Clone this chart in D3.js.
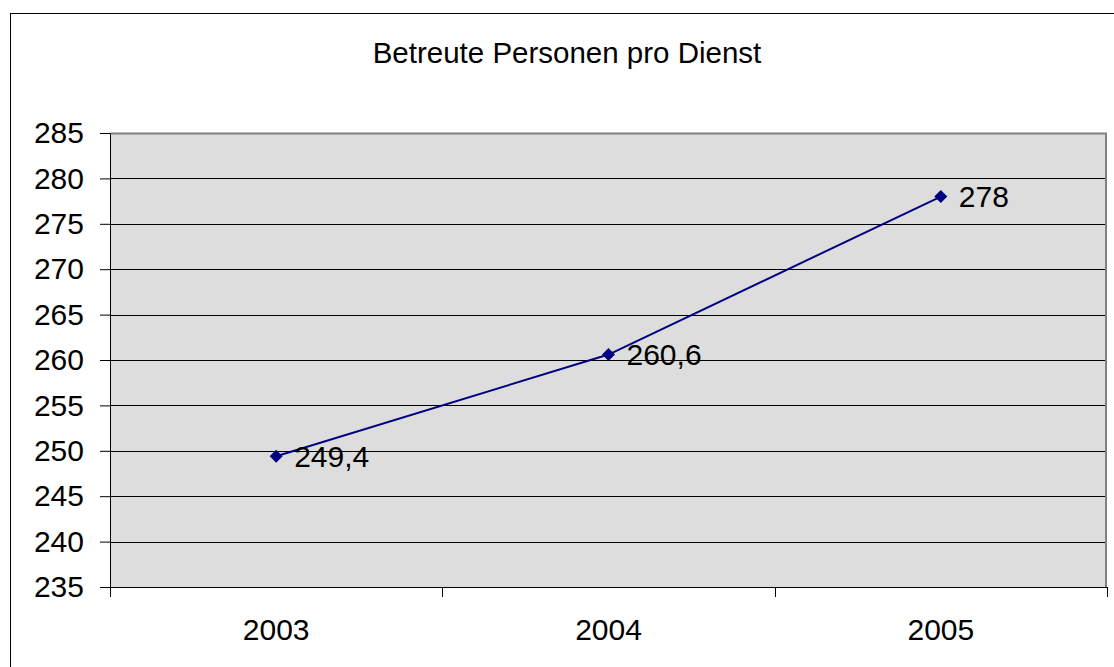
<!DOCTYPE html>
<html>
<head>
<meta charset="utf-8">
<script src="https://cdn.jsdelivr.net/npm/d3@7"></script>
<style>
  body { margin: 0; background: #fff; }
  svg { display: block; font-family: Arial, 'Liberation Sans', sans-serif; }
</style>
</head>
<body>
<div id="chart"></div>
<script>
const years = ['2003', '2004', '2005']
const values = [249.4, 260.6, 278]
const valueLabels = ['249,4', '260,6', '278']
const yTicks = [235, 240, 245, 250, 255, 260, 265, 270, 275, 280, 285]
const title = 'Betreute Personen pro Dienst'

const W = 1114
const H = 667
const margin = { top: 133, right: 7, bottom: 80, left: 110 }
const width = W - margin.left - margin.right
const height = 587 - margin.top
const fontSize = 30

const svg = d3
  .select('#chart')
  .append('svg')
  .attr('width', W)
  .attr('height', H)

// outer frame
svg
  .append('rect')
  .attr('x', 10.5)
  .attr('y', 13.5)
  .attr('width', 1200)
  .attr('height', 800)
  .attr('fill', 'none')
  .attr('stroke', '#000')
  .attr('stroke-width', 1)

svg
  .append('text')
  .attr('x', 567)
  .attr('y', 63)
  .attr('text-anchor', 'middle')
  .attr('font-size', 29.5)
  .attr('fill', '#000')
  .text(title)

const g = svg
  .append('g')
  .attr('transform', 'translate(' + margin.left + ',' + margin.top + ')')

const x = d3.scaleBand().domain(years).range([0, width])
const y = d3.scaleLinear().domain([235, 285]).range([height, 0])

// plot background
g.append('rect')
  .attr('width', width)
  .attr('height', height)
  .attr('fill', '#dddddd')

// gridlines
g.selectAll('.grid')
  .data(yTicks.slice(1, -1))
  .enter()
  .append('line')
  .attr('x1', 0)
  .attr('x2', width)
  .attr('y1', d => Math.round(y(d)) + 0.5)
  .attr('y2', d => Math.round(y(d)) + 0.5)
  .attr('stroke', '#000')
  .attr('stroke-width', 1)

// plot border top/right (gray)
g.append('path')
  .attr('d', 'M0,0.5H' + (width - 1) + 'V' + height)
  .attr('fill', 'none')
  .attr('stroke', '#808080')
  .attr('stroke-width', 2)

// y axis
const yAxis = d3
  .axisLeft(y)
  .tickValues(yTicks)
  .tickSize(10)
  .tickPadding(16)
  .tickSizeOuter(0)

const yg = g.append('g').attr('class', 'y-axis').call(yAxis)
yg.select('.domain').attr('stroke', '#000')
yg.selectAll('.tick line').attr('stroke', '#000')
yg.selectAll('.tick text')
  .attr('font-size', fontSize)
  .attr('font-family', 'Arial, Liberation Sans, sans-serif')
  .attr('fill', '#000')

// x axis
const xAxis = d3
  .axisBottom(x)
  .tickSize(0)
  .tickPadding(32)
  .tickSizeOuter(0)

const xg = g
  .append('g')
  .attr('class', 'x-axis')
  .attr('transform', 'translate(0,' + height + ')')
  .call(xAxis)
xg.select('.domain').attr('stroke', '#000')
xg.selectAll('.tick text')
  .attr('font-size', fontSize)
  .attr('font-family', 'Arial, Liberation Sans, sans-serif')
  .attr('fill', '#000')

// category separators below the axis
const bounds = years.map(d => x(d)).concat([width])
xg.selectAll('.sep')
  .data(bounds)
  .enter()
  .append('line')
  .attr('x1', d => Math.round(d) + 0.5)
  .attr('x2', d => Math.round(d) + 0.5)
  .attr('y1', 0)
  .attr('y2', 10)
  .attr('stroke', '#000')

const points = years.map((yr, i) => ({ year: yr, value: values[i], label: valueLabels[i] }))
const cx = d => x(d.year) + x.bandwidth() / 2

const line = d3
  .line()
  .x(cx)
  .y(d => y(d.value))

g.append('path')
  .datum(points)
  .attr('d', line)
  .attr('fill', 'none')
  .attr('stroke', '#000080')
  .attr('stroke-width', 2)

// diamond markers
const r = 6.5
g.selectAll('.marker')
  .data(points)
  .enter()
  .append('path')
  .attr('d', 'M0,' + -r + 'L' + r + ',0L0,' + r + 'L' + -r + ',0Z')
  .attr('transform', d => 'translate(' + cx(d) + ',' + y(d.value) + ')')
  .attr('fill', '#000080')

g.selectAll('.label')
  .data(points)
  .enter()
  .append('text')
  .attr('x', d => cx(d) + 18)
  .attr('y', d => y(d.value))
  .attr('dy', '0.35em')
  .attr('font-size', fontSize)
  .attr('fill', '#000')
  .text(d => d.label)
</script>
</body>
</html>
